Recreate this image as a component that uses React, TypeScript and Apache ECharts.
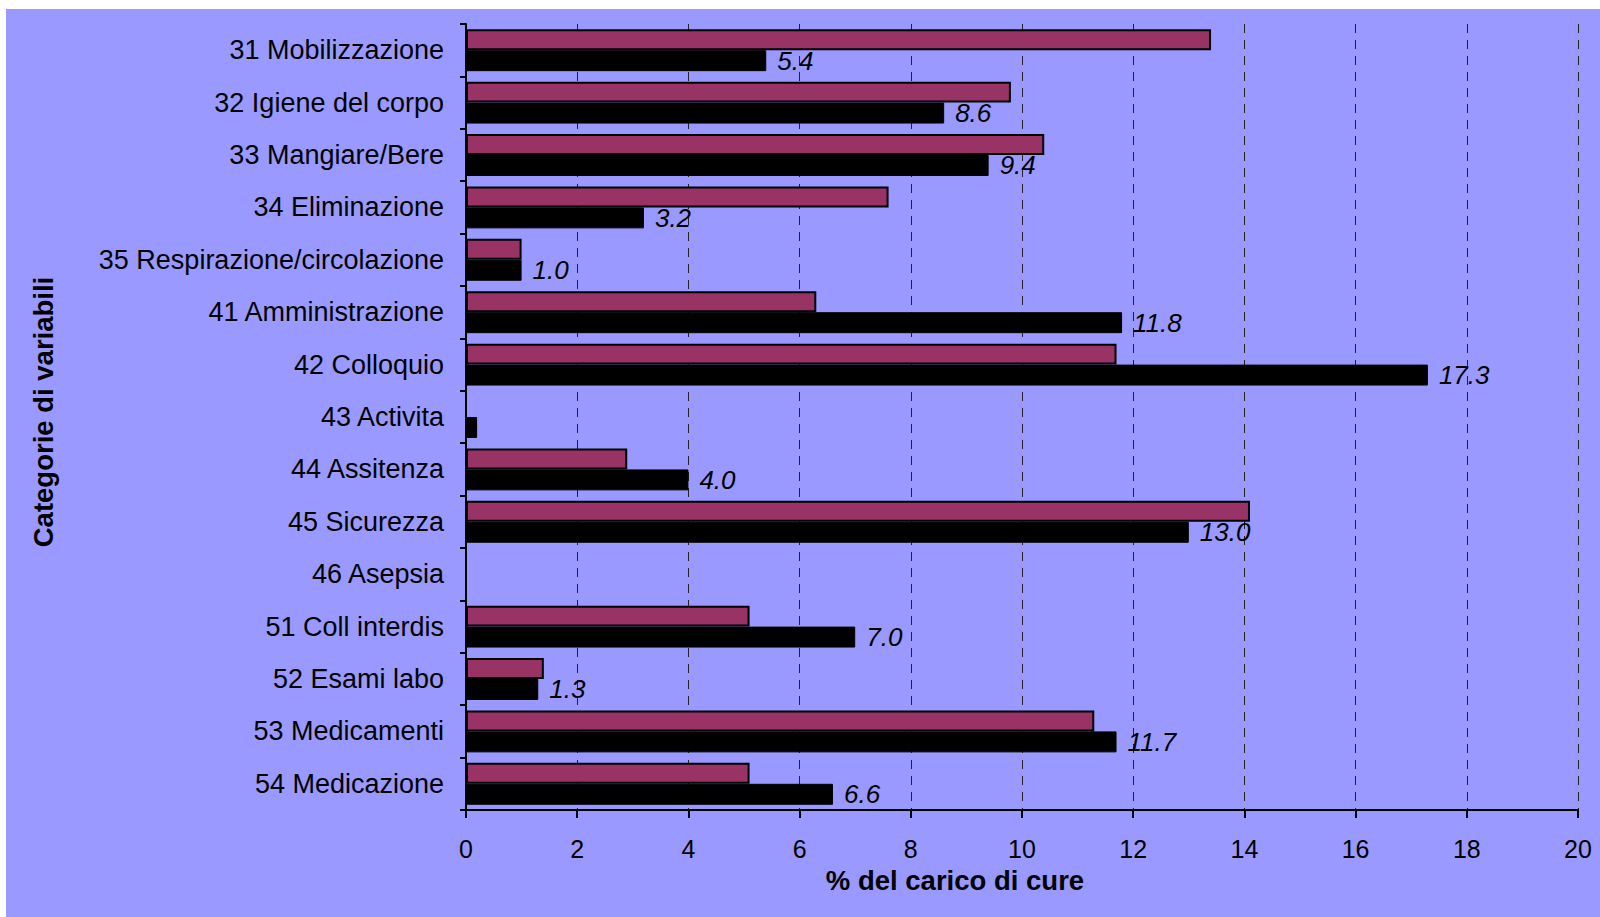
import React, { useEffect, useRef } from "react";
import * as echarts from "echarts";

const categories = [
  "31 Mobilizzazione",
  "32 Igiene del corpo",
  "33 Mangiare/Bere",
  "34 Eliminazione",
  "35 Respirazione/circolazione",
  "41 Amministrazione",
  "42 Colloquio",
  "43 Activita",
  "44 Assitenza",
  "45 Sicurezza",
  "46 Asepsia",
  "51 Coll interdis",
  "52 Esami labo",
  "53 Medicamenti",
  "54 Medicazione",
];
const maroonValues: (number | null)[] = [13.4, 9.8, 10.4, 7.6, 1.0, 6.3, 11.7, null, 2.9, 14.1, null, 5.1, 1.4, 11.3, 5.1];
const blackValues: (number | null)[] = [5.4, 8.6, 9.4, 3.2, 1.0, 11.8, 17.3, 0.2, 4.0, 13.0, null, 7.0, 1.3, 11.7, 6.6];
const unlabeledCategories = ["43 Activita", "46 Asepsia"];
const xTicks = { min: 0, max: 20, interval: 2 };
const xTitle = "% del carico di cure";
const yTitle = "Categorie di variabili";

const FONT = "'Liberation Sans', Arial, sans-serif";

export default function App() {
  const ref = useRef<HTMLDivElement>(null);
  useEffect(() => {
    if (!ref.current) return;
    const chart = echarts.init(ref.current, null, { renderer: "svg" });
    const blackData = blackValues.map((v, i) => ({
      value: v,
      label: { show: v != null && !unlabeledCategories.includes(categories[i]) },
    }));
    chart.setOption({
      animation: false,
      backgroundColor: "transparent",
      textStyle: { fontFamily: FONT },
      grid: { left: 466, right: 22, top: 24, bottom: 107, containLabel: false },
      xAxis: {
        type: "value",
        min: xTicks.min,
        max: xTicks.max,
        interval: xTicks.interval,
        name: xTitle,
        nameLocation: "middle",
        nameGap: 56,
        nameTextStyle: {
          fontSize: 27.5,
          fontWeight: "bold",
          color: "#000",
          fontFamily: FONT,
          padding: [0, 134, 0, 0],
        },
        axisLine: { show: true, lineStyle: { color: "#000", width: 2 } },
        axisTick: { show: true, length: 8, lineStyle: { color: "#000", width: 2 } },
        axisLabel: { fontSize: 25, color: "#000", margin: 26, fontFamily: FONT },
        splitLine: { show: true, lineStyle: { color: "#222", width: 1, type: [9, 7] } },
      },
      yAxis: {
        type: "category",
        data: categories,
        inverse: true,
        name: yTitle,
        nameLocation: "middle",
        nameGap: 409,
        nameRotate: 90,
        nameTextStyle: { fontSize: 27.5, fontWeight: "bold", color: "#000", fontFamily: FONT, padding: [0, 0, 0, 10] },
        axisLine: { show: true, lineStyle: { color: "#000", width: 2 } },
        axisTick: { show: true, length: 6, lineStyle: { color: "#000", width: 2 } },
        axisLabel: { fontSize: 27, color: "#000", margin: 22, fontFamily: FONT, padding: [0, 0, 5, 0] },
        splitLine: { show: false },
      },
      series: [
        {
          name: "Serie 1",
          type: "bar",
          data: maroonValues,
          barGap: "0%",
          barCategoryGap: "20%",
          itemStyle: { color: "#993366", borderColor: "#000", borderWidth: 2 },
        },
        {
          name: "Serie 2",
          type: "bar",
          data: blackData,
          barGap: "0%",
          barCategoryGap: "20%",
          itemStyle: { color: "#000", borderColor: "#000", borderWidth: 1 },
          label: {
            show: true,
            position: "right",
            distance: 11,
            fontSize: 26,
            fontStyle: "italic",
            color: "#000",
            fontFamily: FONT,
            formatter: (p: any) => Number(p.value).toFixed(1),
          },
        },
      ],
    });
    return () => chart.dispose();
  }, []);
  return (
    <div style={{ position: "fixed", left: 0, top: 0, width: 1600, height: 917, background: "#fff" }}>
      <div style={{ position: "absolute", left: 6, top: 9, width: 1594, height: 908, background: "#9999FF" }} />
      <div ref={ref} style={{ position: "absolute", left: 0, top: 0, width: 1600, height: 917 }} />
    </div>
  );
}
